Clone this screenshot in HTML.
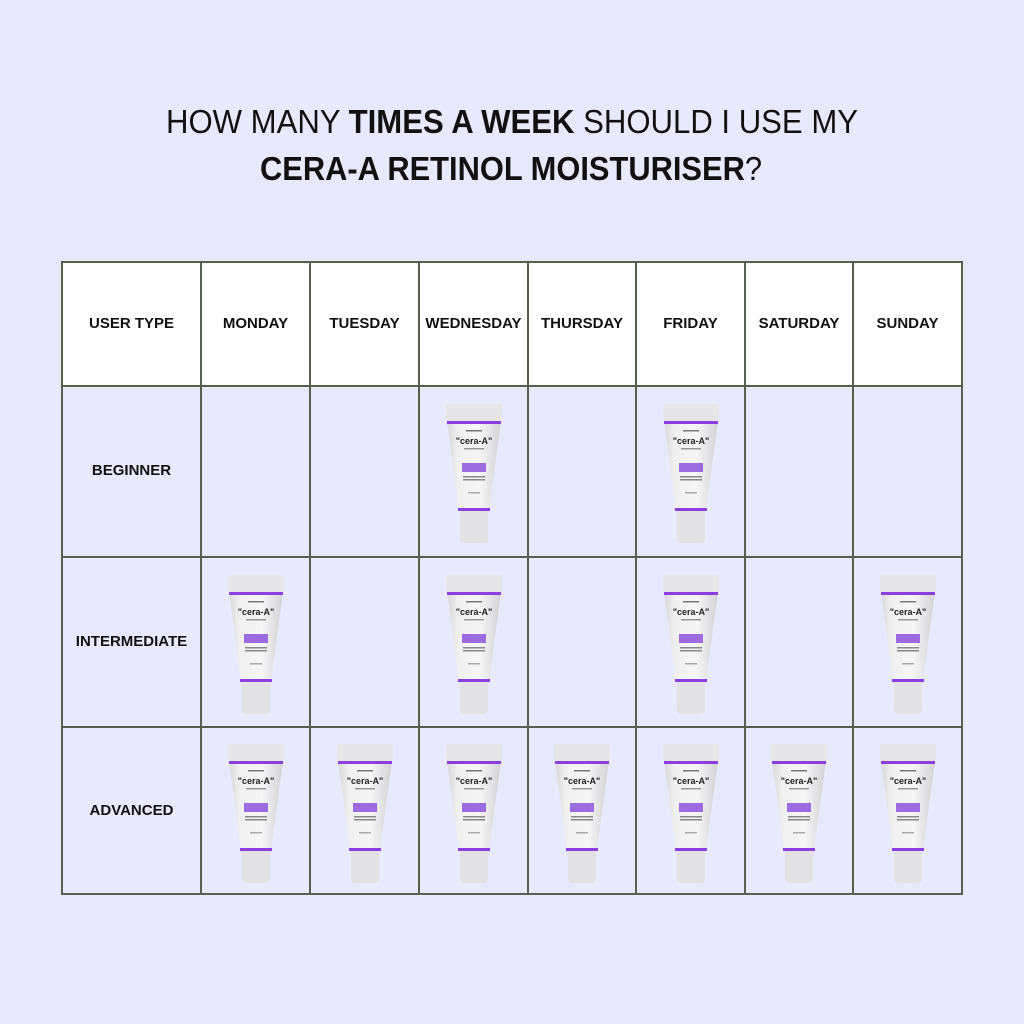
<!DOCTYPE html>
<html><head><meta charset="utf-8"><style>
html,body{margin:0;padding:0;background:#e9e9fe;}
svg{display:block;font-family:"Liberation Sans",sans-serif;}
</style></head><body>
<svg width="1024" height="1024" viewBox="0 0 1024 1024" xmlns="http://www.w3.org/2000/svg">
<defs>
<linearGradient id="tg" x1="0" x2="1" y1="0" y2="0">
<stop offset="0" stop-color="#d8d8da"/><stop offset="0.2" stop-color="#f0f0f1"/><stop offset="0.6" stop-color="#f6f6f7"/><stop offset="1" stop-color="#d2d2d5"/>
</linearGradient>
<g id="tube">
<rect x="0" y="0" width="56" height="17" rx="2" fill="#e6e6e8"/>
<path d="M1,17 L55,17 L43,106 L13,106 Z" fill="url(#tg)"/>
<rect x="1" y="17" width="54" height="3" fill="#8a3fe0"/>
<rect x="12" y="104" width="32" height="3" fill="#8a3fe0"/>
<rect x="20" y="26" width="16" height="1.5" fill="#777"/>
<text x="28" y="40" font-size="9" font-weight="bold" text-anchor="middle" fill="#222">"cera-A"</text>
<rect x="18" y="44" width="20" height="1.5" fill="#999"/>
<rect x="16" y="59" width="24" height="9" fill="#9b6be0"/>
<rect x="17" y="72" width="22" height="1.5" fill="#888"/>
<rect x="17" y="75" width="22" height="1.5" fill="#888"/>
<rect x="22" y="88" width="12" height="1.5" fill="#aaa"/>
<path d="M14,107 L42,107 L42,134 Q42,139 37,139 L19,139 Q14,139 14,134 Z" fill="#e2e2e5"/>
</g>
</defs>
<rect width="1024" height="1024" fill="#e9e9fe"/>
<text x="512" y="133" font-size="33" text-anchor="middle" fill="#111" textLength="692" lengthAdjust="spacingAndGlyphs">HOW MANY <tspan font-weight="bold">TIMES A WEEK</tspan> SHOULD I USE MY</text>
<text x="511" y="180" font-size="33" text-anchor="middle" fill="#111" textLength="502" lengthAdjust="spacingAndGlyphs"><tspan font-weight="bold">CERA-A RETINOL MOISTURISER</tspan>?</text>
<rect x="62" y="262" width="900" height="124" fill="#fff"/>
<g stroke="#56604c" stroke-width="2" fill="none">
<rect x="62" y="262" width="900" height="632"/>
<line x1="62" y1="386" x2="962" y2="386"/>
<line x1="62" y1="557" x2="962" y2="557"/>
<line x1="62" y1="727" x2="962" y2="727"/>
<line x1="201" y1="262" x2="201" y2="894"/>
<line x1="310" y1="262" x2="310" y2="894"/>
<line x1="419" y1="262" x2="419" y2="894"/>
<line x1="528" y1="262" x2="528" y2="894"/>
<line x1="636" y1="262" x2="636" y2="894"/>
<line x1="745" y1="262" x2="745" y2="894"/>
<line x1="853" y1="262" x2="853" y2="894"/>
</g>
<g font-size="15" font-weight="bold" text-anchor="middle" fill="#111">
<text x="131.5" y="328">USER TYPE</text>
<text x="255.5" y="328">MONDAY</text>
<text x="364.5" y="328">TUESDAY</text>
<text x="473.5" y="328">WEDNESDAY</text>
<text x="582" y="328">THURSDAY</text>
<text x="690.5" y="328">FRIDAY</text>
<text x="799" y="328">SATURDAY</text>
<text x="907.5" y="328">SUNDAY</text>
<text x="131.5" y="475">BEGINNER</text>
<text x="131.5" y="646">INTERMEDIATE</text>
<text x="131.5" y="815">ADVANCED</text>
</g>
<use href="#tube" x="446" y="404"/>
<use href="#tube" x="663" y="404"/>
<use href="#tube" x="228" y="575"/>
<use href="#tube" x="446" y="575"/>
<use href="#tube" x="663" y="575"/>
<use href="#tube" x="880" y="575"/>
<use href="#tube" x="228" y="744"/>
<use href="#tube" x="337" y="744"/>
<use href="#tube" x="446" y="744"/>
<use href="#tube" x="554" y="744"/>
<use href="#tube" x="663" y="744"/>
<use href="#tube" x="771" y="744"/>
<use href="#tube" x="880" y="744"/>
</svg>
</body></html>
